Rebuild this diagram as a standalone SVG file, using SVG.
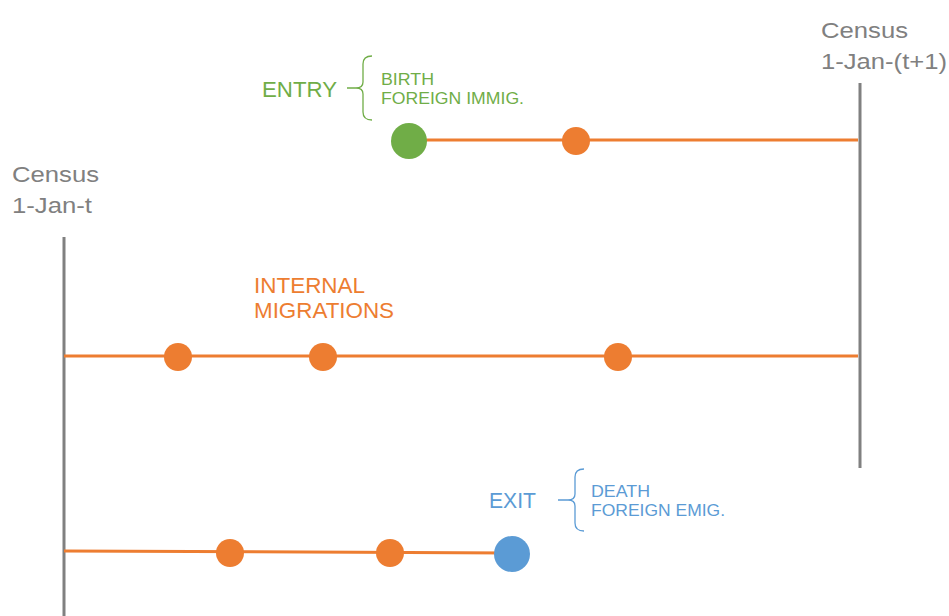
<svg xmlns="http://www.w3.org/2000/svg" width="949" height="616" viewBox="0 0 949 616">
<style>
.census{font-family:"Liberation Sans",Arial,sans-serif;font-size:22.5px;fill:#808080}
.big{font-family:"Liberation Sans",Arial,sans-serif;font-size:22px}
.small{font-family:"Liberation Sans",Arial,sans-serif;font-size:16px}
.axis{stroke:#808080;stroke-width:3;fill:none}
.track{stroke:#ED7D31;stroke-width:3;fill:none}
.ev{fill:#ED7D31}
.brace{fill:none;stroke-width:1.3}
</style>
<rect width="949" height="616" fill="#fff"/>
<g id="census-t">
<line class="axis" x1="64" y1="237" x2="64" y2="616"/>
<text class="census" x="12" y="182" textLength="87" lengthAdjust="spacingAndGlyphs">Census</text>
<text class="census" x="12" y="213" textLength="80" lengthAdjust="spacingAndGlyphs">1-Jan-t</text>
</g>
<g id="census-t1">
<line class="axis" x1="860" y1="83" x2="860" y2="468"/>
<text class="census" x="821" y="38" textLength="87" lengthAdjust="spacingAndGlyphs">Census</text>
<text class="census" x="821" y="69" textLength="126" lengthAdjust="spacingAndGlyphs">1-Jan-(t+1)</text>
</g>
<g id="connectors">
<line class="track" x1="409" y1="140" x2="858" y2="140"/>
<line class="track" x1="64" y1="356" x2="858" y2="356"/>
<line class="track" x1="64" y1="551" x2="512" y2="553"/>
</g>
<g id="entry">
<text class="big" x="262" y="97" fill="#70AD47" textLength="75" lengthAdjust="spacingAndGlyphs">ENTRY</text>
<path class="brace" stroke="#70AD47" d="M372,56 Q363,56 363,64 L363,82 Q363,88 356,88 L347,88 M356,88 Q363,88 363,94 L363,112 Q363,120 372,120"/>
<text class="small" x="381" y="85" fill="#70AD47" textLength="53" lengthAdjust="spacingAndGlyphs">BIRTH</text>
<text class="small" x="381" y="104" fill="#70AD47" textLength="143" lengthAdjust="spacingAndGlyphs">FOREIGN IMMIG.</text>
<circle cx="409" cy="141" r="18" fill="#70AD47"/>
</g>
<g id="entry-event"><circle class="ev" cx="576" cy="141" r="14"/></g>
<g id="internal">
<text class="big" x="254" y="293" fill="#ED7D31" textLength="111" lengthAdjust="spacingAndGlyphs">INTERNAL</text>
<text class="big" x="254" y="318" fill="#ED7D31" textLength="140" lengthAdjust="spacingAndGlyphs">MIGRATIONS</text>
<circle class="ev" cx="178" cy="357" r="14"/>
<circle class="ev" cx="323" cy="357" r="14"/>
<circle class="ev" cx="618" cy="357" r="14"/>
</g>
<g id="exit-events">
<circle class="ev" cx="230" cy="553" r="14"/>
<circle class="ev" cx="390" cy="553" r="14"/>
</g>
<g id="exit">
<text class="big" x="489" y="508" fill="#5B9BD5" textLength="47" lengthAdjust="spacingAndGlyphs">EXIT</text>
<path class="brace" stroke="#5B9BD5" d="M584,469 Q575,469 575,477 L575,494 Q575,500 568,500 L558,500 M568,500 Q575,500 575,506 L575,523 Q575,531 584,531"/>
<text class="small" x="591" y="497" fill="#5B9BD5" textLength="59" lengthAdjust="spacingAndGlyphs">DEATH</text>
<text class="small" x="591" y="516" fill="#5B9BD5" textLength="134" lengthAdjust="spacingAndGlyphs">FOREIGN EMIG.</text>
<circle cx="512" cy="554" r="18" fill="#5B9BD5"/>
</g>
</svg>
